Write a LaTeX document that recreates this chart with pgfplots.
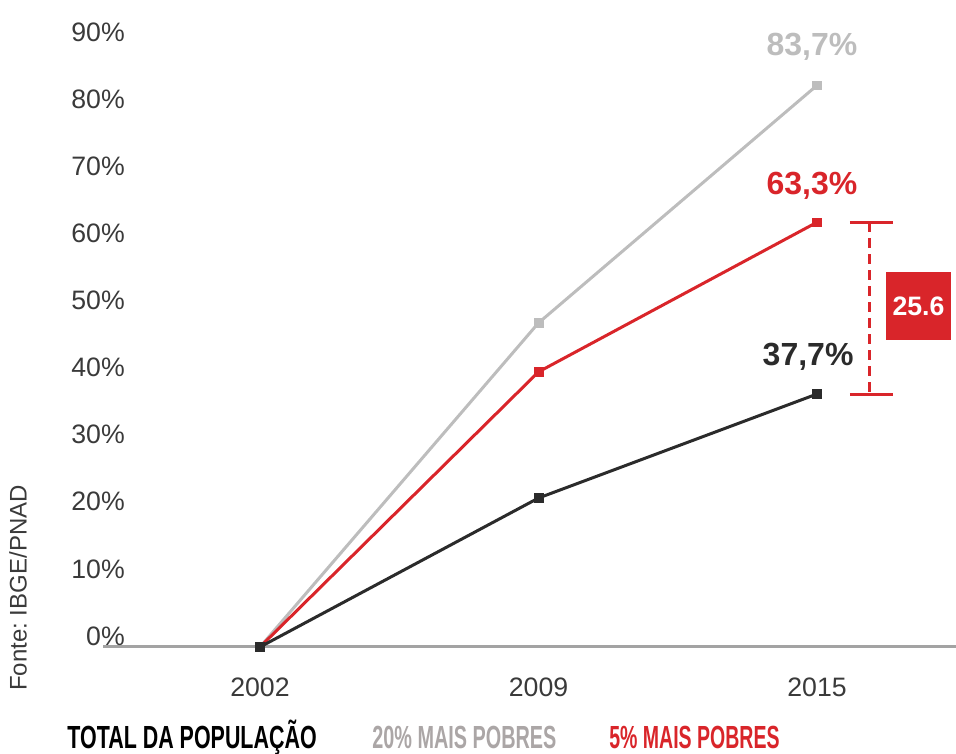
\documentclass[border=0pt]{standalone}
\usepackage{fontspec}
\setmainfont{Liberation Sans}
\usepackage{graphicx}
\usepackage{pgfplots}
\pgfplotsset{compat=1.18}
\definecolor{cgray}{HTML}{BDBDBD}
\definecolor{cred}{HTML}{D9252A}
\definecolor{cblack}{HTML}{2B2B2B}
\definecolor{cbase}{HTML}{A3A3A3}
\definecolor{ctick}{HTML}{3A3A3A}
\definecolor{clegray}{HTML}{ABA6A6}
\begin{document}
\frenchspacing
\begin{tikzpicture}
\begin{axis}[
  name=ax,
  x=208.875pt, y=5.0325pt,
  xmin=-0.5637, xmax=2.4991, ymin=0, ymax=95,
  axis x line*=bottom, axis y line*=left,
  x axis line style={draw=cbase, line width=2.25pt, -},
  y axis line style={draw=none},
  major tick length=0pt,
  xtick={0,1,2}, xticklabels={2002,2009,2015},
  ytick={0,10,...,90},
  yticklabel={\pgfmathprintnumber{\tick}\%},
  /pgf/number format/assume math mode=true,
  tick label style={font=\fontsize{20}{24}\selectfont, text=ctick},
  yticklabel style={anchor=east, inner sep=0pt, xshift=16.5pt, yshift=8.25pt},
  xticklabel style={anchor=north, inner sep=0pt, yshift=-23pt},
  clip=false,
]
\addplot[cgray, line width=2.25pt, mark=square*, mark size=3.3pt, mark options={line width=0.5pt}] coordinates {(0,0) (1,48.3) (2,83.7)};
\addplot[cred, line width=2.25pt, mark=square*, mark size=3.3pt, mark options={line width=0.5pt}] coordinates {(0,0) (1,41.0) (2,63.3)};
\addplot[cblack, line width=2.25pt, mark=square*, mark size=3.3pt, mark options={line width=0.5pt}] coordinates {(0,0) (1,22.2) (2,37.7)};

\node[text=cgray, font=\bfseries\fontsize{24}{28}\selectfont] at (axis cs:1.982,89.4) {83,7\%};
\node[text=cred, font=\bfseries\fontsize{24}{28}\selectfont] at (axis cs:1.982,68.7) {63,3\%};
\node[text=cblack, font=\bfseries\fontsize{24}{28}\selectfont] at (axis cs:1.968,43.2) {37,7\%};

\draw[cred, line width=2.25pt] (axis cs:2.118,63.3) -- (axis cs:2.273,63.3);
\draw[cred, line width=2.25pt] (axis cs:2.118,37.7) -- (axis cs:2.273,37.7);
\draw[cred, line width=2.25pt, dash pattern=on 7pt off 5pt] (axis cs:2.190,63.3) -- (axis cs:2.190,37.7);
\fill[cred] (axis cs:2.248,45.75) rectangle (axis cs:2.481,55.9);
\node[text=white, font=\bfseries\fontsize{20}{24}\selectfont] at (axis cs:2.3645,50.8) {25.6};

\node[font=\bfseries\fontsize{24}{28}\selectfont, text=black] at (axis cs:-0.244,-13.5) {\scalebox{0.67}[1]{TOTAL DA POPULAÇÃO}};
\node[font=\bfseries\fontsize{24}{28}\selectfont, text=clegray] at (axis cs:0.734,-13.5) {\scalebox{0.62}[1]{20\% MAIS POBRES}};
\node[font=\bfseries\fontsize{24}{28}\selectfont, text=cred] at (axis cs:1.560,-13.5) {\scalebox{0.61}[1]{5\% MAIS POBRES}};

\node[rotate=90, font=\fontsize{18}{22}\selectfont, text=ctick] at (axis cs:-0.869,8.79) {Fonte: IBGE/PNAD};

\coordinate (bbsw) at (axis cs:-0.9336,-15.946);
\coordinate (bbne) at (axis cs:2.4991,96.423);
\end{axis}
\pgfresetboundingbox
\path (bbsw) rectangle (bbne);
\end{tikzpicture}
\end{document}
